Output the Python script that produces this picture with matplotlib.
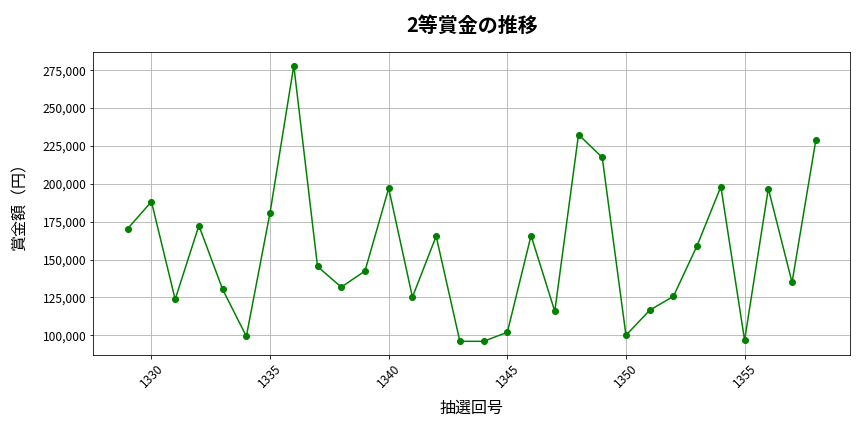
import matplotlib
matplotlib.use("Agg")
import matplotlib.pyplot as plt
from matplotlib.ticker import FuncFormatter

plt.rcParams['font.family'] = ['Noto Sans CJK JP', 'DejaVu Sans']

draws = list(range(1329, 1359))
prizes = [170400, 188200, 123700, 172400, 130300, 99300, 181000, 278000,
          145400, 131800, 142400, 197000, 125200, 165400, 96000, 96000,
          102000, 165800, 115800, 232500, 217400, 100000, 116500, 125700,
          159200, 198100, 96700, 196800, 134900, 228600]

fig = plt.figure(figsize=(12, 6), dpi=72)
ax = fig.add_axes([0.108, 0.178, 0.876, 0.702])
ax.plot(draws, prizes, marker='o', color='green', linewidth=1.5, markersize=6)
ax.set_title('2等賞金の推移', fontsize=20, fontweight='bold', pad=20)
ax.set_xlabel('抽選回号', fontsize=16, labelpad=10)
ax.set_ylabel('賞金額（円）', fontsize=16, labelpad=14)
ax.yaxis.set_major_formatter(FuncFormatter(lambda v, p: f'{int(v):,}'))
ax.grid(True, color='#b0b0b0', linewidth=0.8)
plt.setp(ax.get_xticklabels(), rotation=45)
ax.tick_params(labelsize=12)
fig.savefig('out.png', dpi=72)
